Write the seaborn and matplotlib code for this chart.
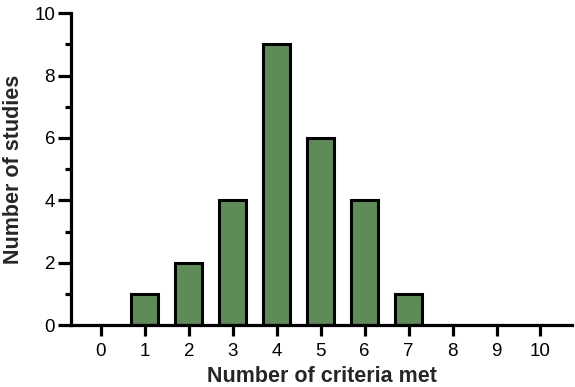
import matplotlib
matplotlib.use("Agg")
import matplotlib.pyplot as plt
import seaborn as sns
import pandas as pd
from matplotlib.ticker import MultipleLocator

criteria = [0, 1, 2, 3, 4, 5, 6, 7, 8, 9, 10]
studies = [0, 1, 2, 4, 9, 6, 4, 1, 0, 0, 0]

sns.set_style("ticks")
plt.rcParams['font.family'] = ['Liberation Sans', 'DejaVu Sans']

df = pd.DataFrame({"criteria": criteria, "studies": studies})

fig = plt.figure(figsize=(5.75, 3.87), dpi=100)
ax = fig.add_axes([0.1235, 0.160, 0.8715, 0.806])

sns.barplot(data=df, x="criteria", y="studies", color="#5e8b57", saturation=1,
            width=0.62, edgecolor="black", linewidth=2.2, ax=ax)

ax.set_xlim(-0.68, 10.72)
ax.set_ylim(0, 10)
ax.yaxis.set_major_locator(MultipleLocator(2))
ax.yaxis.set_minor_locator(MultipleLocator(1))
sns.despine(ax=ax)
for s in ["left", "bottom"]:
    ax.spines[s].set_linewidth(2.3)
    ax.spines[s].set_color("black")
ax.tick_params(axis="y", which="major", length=9.5, width=2.3, labelsize=13.5, pad=2, colors="black")
ax.tick_params(axis="y", which="minor", length=4.5, width=2.3, colors="black")
ax.tick_params(axis="x", which="major", length=8, width=2.3, labelsize=13.5, pad=5, colors="black")
ax.set_xlabel("Number of criteria met", fontsize=15.5, fontweight="bold", labelpad=4)
ax.set_ylabel("Number of studies", fontsize=15.5, fontweight="bold", labelpad=7)

fig.savefig("out.png", dpi=100)
